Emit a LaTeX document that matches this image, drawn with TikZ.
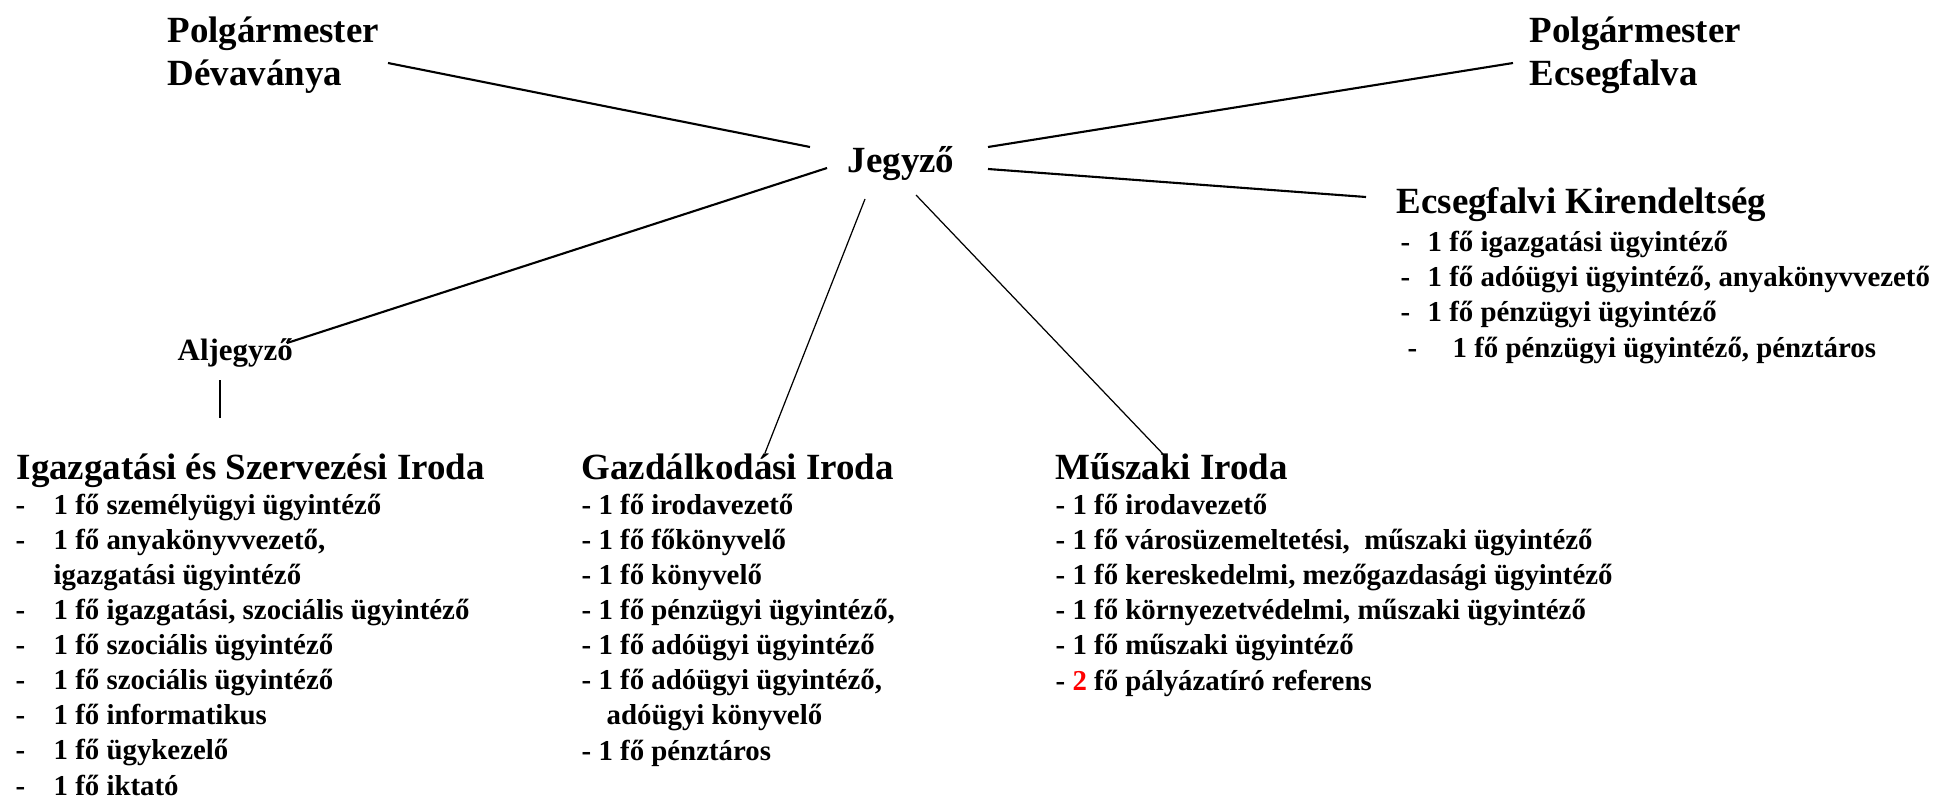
\documentclass[tikz,border=0pt]{standalone}
\usepackage{fontspec}
\setmainfont{Liberation Serif}
\tikzset{
    head/.style={font=\fontsize{10.5}{12.2}\selectfont\bfseries, align=left, anchor=base west, inner sep=0pt},
    sub/.style={font=\fontsize{8.8}{10}\selectfont\bfseries, anchor=base west, inner sep=0pt},
    lst/.style={font=\fontsize{8.2}{9.96}\selectfont\bfseries, align=left, anchor=base west, inner sep=0pt},
    thk/.style={line width=0.6pt},
    thn/.style={line width=0.35pt}
}
\newcommand*\itemdash[1]{\makebox[#1][l]{-}}

\begin{document}
\begin{tikzpicture}[x=0.01cm, y=-0.01cm]
        \useasboundingbox (0,0) rectangle (1946,806);

        % multi-line nodes sit on the baseline of their last line
        \node[head] (polgd) at (167,85) {Polgármester\\Dévaványa};
        \node[head] (polge) at (1529,85) {Polgármester\\Ecsegfalva};
        \node[head] (jegyzo) at (847,172) {Jegyző};
        \node[head] (ecs) at (1396,213) {Ecsegfalvi Kirendeltség};
        \node[sub] (aljegyzo) at (177,360) {Aljegyző};
        \node[head] (igaz) at (16,479) {Igazgatási és Szervezési Iroda};
        \node[head] (gazd) at (581,479) {Gazdálkodási Iroda};
        \node[head] (musz) at (1055,479) {Műszaki Iroda};

        \node[lst] (ecsl) at (1400,357) {\itemdash{0.27cm}1 fő igazgatási ügyintéző\\
            \itemdash{0.27cm}1 fő adóügyi ügyintéző, anyakönyvvezető\\
            \itemdash{0.27cm}1 fő pénzügyi ügyintéző\\
            \hspace*{0.07cm}\itemdash{0.45cm}1 fő pénzügyi ügyintéző, pénztáros};
        \node[lst] (igazl) at (15,795) {\itemdash{0.38cm}1 fő személyügyi ügyintéző\\
            \itemdash{0.38cm}1 fő anyakönyvvezető,\\
            \hspace*{0.38cm}igazgatási ügyintéző\\
            \itemdash{0.38cm}1 fő igazgatási, szociális ügyintéző\\
            \itemdash{0.38cm}1 fő szociális ügyintéző\\
            \itemdash{0.38cm}1 fő szociális ügyintéző\\
            \itemdash{0.38cm}1 fő informatikus\\
            \itemdash{0.38cm}1 fő ügykezelő\\
            \itemdash{0.38cm}1 fő iktató};
        \node[lst] (gazdl) at (581,760) {- 1 fő irodavezető\\
            - 1 fő főkönyvelő\\
            - 1 fő könyvelő\\
            - 1 fő pénzügyi ügyintéző,\\
            - 1 fő adóügyi ügyintéző\\
            - 1 fő adóügyi ügyintéző,\\
            \hspace*{0.25cm}adóügyi könyvelő\\
            - 1 fő pénztáros};
        \node[lst] (muszl) at (1055,690) {- 1 fő irodavezető\\
            - 1 fő városüzemeltetési,\ \ műszaki ügyintéző\\
            - 1 fő kereskedelmi, mezőgazdasági ügyintéző\\
            - 1 fő környezetvédelmi, műszaki ügyintéző\\
            - 1 fő műszaki ügyintéző\\
            - \textcolor{red}{2} fő pályázatíró referens};

        \draw[thk] ([shift={(221,-22)}]polgd.base west) -- ([shift={(-37,-25)}]jegyzo.base west);
        \draw[thk] ([shift={(141,-25)}]jegyzo.base west) -- ([shift={(-16,-22)}]polge.base west);
        \draw[thk] ([shift={(141,-3)}]jegyzo.base west) -- ([shift={(-30,-16)}]ecs.base west);
        \draw[thk] ([shift={(-20,-4)}]jegyzo.base west) -- ([shift={(110,-17)}]aljegyzo.base west);
        \draw[thn] ([shift={(18,27)}]jegyzo.base west) -- ([shift={(184,-26)}]gazd.base west);
        \draw[thn] ([shift={(69,23)}]jegyzo.base west) -- ([shift={(108,-25)}]musz.base west);
        \draw[thn] ([shift={(43,20)}]aljegyzo.base west) -- ([shift={(204,-61)}]igaz.base west);
    \end{tikzpicture}
\end{document}
